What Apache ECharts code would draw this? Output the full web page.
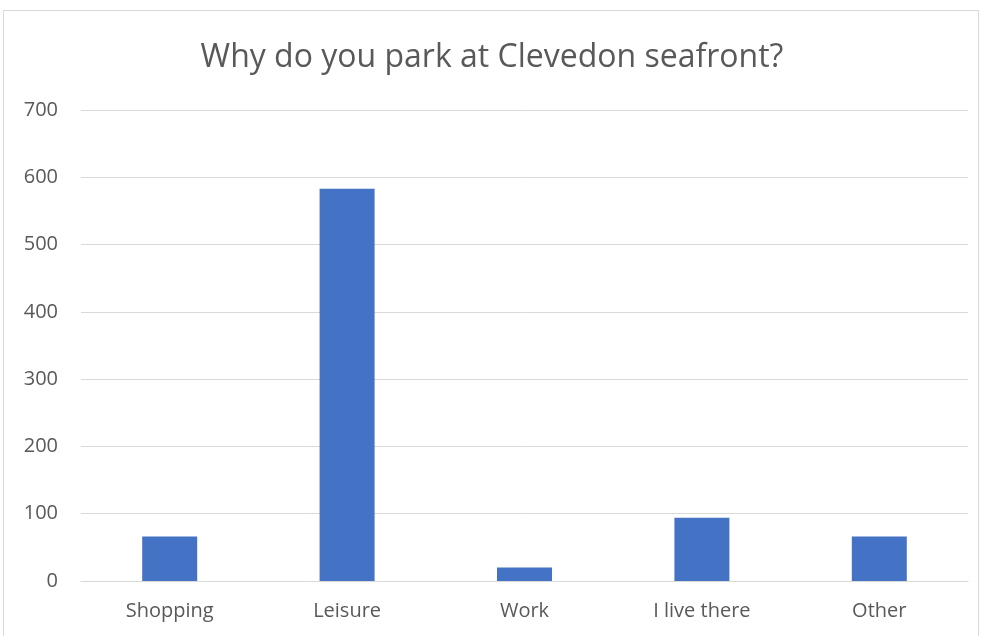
<!DOCTYPE html>
<html>
<head>
<meta charset="utf-8">
<script src="https://cdn.jsdelivr.net/npm/echarts@6/dist/echarts.min.js"></script>
<style>
  html, body { margin: 0; padding: 0; background: #fff; }
  #frame { position: absolute; left: 3px; top: 10px; width: 976px; height: 640px; border: 1px solid #d9d9d9; box-sizing: border-box; }
  #chart { width: 984px; height: 636px; position: absolute; left: 0; top: 0; }
</style>
</head>
<body>
<div id="frame"></div>
<div id="chart"></div>
<script>
// Survey answers: reasons for parking on the seafront
const categories = ['Shopping', 'Leisure', 'Work', 'I live there', 'Other'];
const responses = [66, 583, 20, 94, 66];
const yTicks = [0, 100, 200, 300, 400, 500, 600, 700];

const chart = echarts.init(document.getElementById('chart'), null, { renderer: 'canvas' });
chart.setOption({
  animation: false,
  textStyle: { fontFamily: 'Open Sans, Noto Sans, sans-serif' },
  title: {
    text: 'Why do you park at Clevedon seafront?',
    left: 'center',
    top: 37,
    textStyle: { fontSize: 32, fontWeight: 'normal', color: '#595959', fontFamily: 'Open Sans, sans-serif' }
  },
  grid: { left: 81, right: 16, top: 110, bottom: 55, containLabel: false },
  xAxis: {
    type: 'category',
    data: categories,
    axisLine: { lineStyle: { color: '#d9d9d9', width: 1 } },
    axisTick: { show: false },
    axisLabel: { color: '#595959', fontSize: 20, margin: 20 }
  },
  yAxis: {
    type: 'value',
    min: yTicks[0],
    max: yTicks[yTicks.length - 1],
    interval: 100,
    axisLine: { show: false },
    axisTick: { show: false },
    splitLine: { lineStyle: { color: '#d9d9d9', width: 1 } },
    axisLabel: { color: '#595959', fontSize: 20, margin: 23 }
  },
  series: [{
    type: 'bar',
    data: responses,
    barWidth: '31%',
    itemStyle: { color: '#4472c4' }
  }]
});
</script>
</body>
</html>
